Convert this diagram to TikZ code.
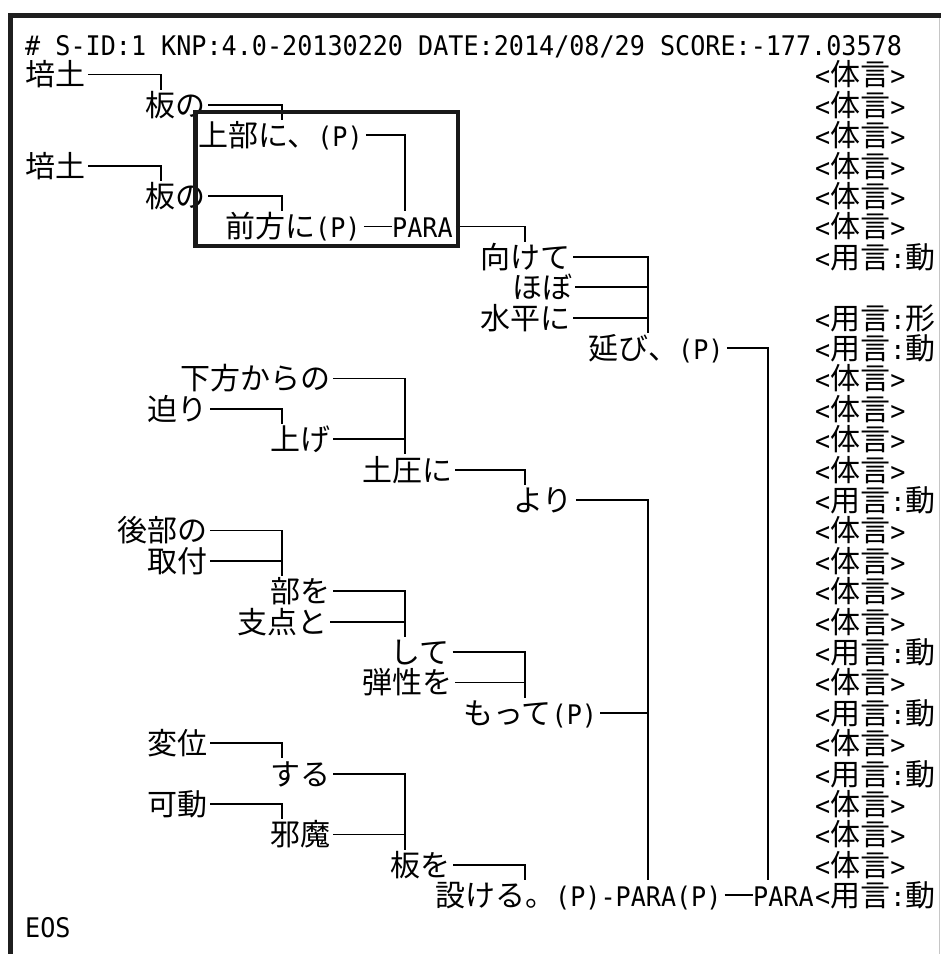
\documentclass[tikz,border=0pt]{standalone}
\usepackage{fontspec}
\newfontfamily\jpface{Noto Sans CJK JP}
\newfontfamily\monoface[FakeStretch=0.93]{DejaVu Sans Mono}
\newcommand\lat[1]{{\monoface\fontsize{27}{30}\selectfont #1}}
\newcommand\jpf{\jpface\fontsize{30}{30}\selectfont}
\newcommand\tagT{\lat{<}体言\lat{>}}
\newcommand\tagD{\lat{<}用言\lat{:}動}
\newcommand\tagK{\lat{<}用言\lat{:}形}
\begin{document}
\begin{tikzpicture}[x=1pt,y=-1pt,
  w/.style={anchor=west,inner sep=0pt,text height=26.4pt,text depth=3.6pt,font=\jpf},
  conn/.style={line width=1.8pt,black,shorten <=3pt},
  frame/.style={line width=5pt,black!88},
  hilite/.style={line width=4.5pt,black!90}]
\useasboundingbox (0,0) rectangle (941,954);
% window frame
\draw[frame] (10,954) -- (10,15) -- (943,15);
\draw[gray!45,line width=1pt] (939.5,18) -- (939.5,954);
% junction columns
\coordinate (ja) at (161,0);
\coordinate (jb) at (282,0);
\coordinate (jc) at (405,0);
\coordinate (jd) at (525,0);
\coordinate (je) at (648,0);
\coordinate (jf) at (768,0);
% header
\node[w] (hdr) at (25,44) {\lat{\# S-ID:1 KNP:4.0-20130220 DATE:2014/08/29 SCORE:-177.03578}};
% words
\node[w] (r1) at (25,74.4) {培土};
\node[w] (r2) at (145,104.8) {板の};
\node[w] (r3) at (198,135.2) {上部に、\lat{(P)}};
\node[w] (r4) at (25,165.6) {培土};
\node[w] (r5) at (145,196) {板の};
\node[w] (r6) at (225,226.4) {前方に\lat{(P)}};
\node[w] (p6) at (392,226.4) {\lat{PARA}};
\node[w] (r7) at (480,256.8) {向けて};
\node[w] (r8) at (512,287.2) {ほぼ};
\node[w] (r9) at (480,317.6) {水平に};
\node[w] (r10) at (588,348) {延び、\lat{(P)}};
\node[w] (r11) at (180,378.4) {下方からの};
\node[w] (r12) at (147,408.8) {迫り};
\node[w] (r13) at (270,439.2) {上げ};
\node[w] (r14) at (362,469.6) {土圧に};
\node[w] (r15) at (513,500) {より};
\node[w] (r16) at (117,530.4) {後部の};
\node[w] (r17) at (147,560.8) {取付};
\node[w] (r18) at (270,591.2) {部を};
\node[w] (r19) at (237,621.6) {支点と};
\node[w] (r20) at (390,652) {して};
\node[w] (r21) at (362,682.4) {弾性を};
\node[w] (r22) at (463,712.8) {もって\lat{(P)}};
\node[w] (r23) at (147,743.2) {変位};
\node[w] (r24) at (270,773.6) {する};
\node[w] (r25) at (147,804) {可動};
\node[w] (r26) at (270,834.4) {邪魔};
\node[w] (r27) at (390,864.8) {板を};
\node[w] (r28) at (435,895.2) {設ける。\lat{(P)-PARA(P)}};
\node[w] (p28) at (753,895.2) {\lat{PARA}};
\node[w] (eos) at (25,925.6) {\lat{EOS}};
% tags
\foreach \r/\tg in {1/\tagT,2/\tagT,3/\tagT,4/\tagT,5/\tagT,6/\tagT,7/\tagD,9/\tagK,10/\tagD,
  11/\tagT,12/\tagT,13/\tagT,14/\tagT,15/\tagD,16/\tagT,17/\tagT,18/\tagT,19/\tagT,20/\tagD,
  21/\tagT,22/\tagD,23/\tagT,24/\tagD,25/\tagT,26/\tagT,27/\tagT,28/\tagD}
  \node[w] (t\r) at (815,44+30.4*\r) {\tg};
% connectors
\draw[conn] (r1.east) -| (ja |- r2.north);
\draw[conn] (r2.east) -| (jb |- r3.north);
\draw[conn] (r3.east) -| (jc |- p6.north);
\draw[conn] (r4.east) -| (ja |- r5.north);
\draw[conn] (r5.east) -| (jb |- r6.north);
\draw[conn] (r6.east) -- (p6.west);
\draw[conn] (p6.east) -| (jd |- r7.north);
\draw[conn] (r7.east) -| (je |- r10.north);
\draw[conn] (r8.east) -| (je |- r10.north);
\draw[conn] (r9.east) -| (je |- r10.north);
\draw[conn] (r10.east) -| (jf |- p28.north);
\draw[conn] (r11.east) -| (jc |- r14.north);
\draw[conn] (r12.east) -| (jb |- r13.north);
\draw[conn] (r13.east) -| (jc |- r14.north);
\draw[conn] (r14.east) -| (jd |- r15.north);
\draw[conn] (r15.east) -| (je |- r28.north);
\draw[conn] (r16.east) -| (jb |- r18.north);
\draw[conn] (r17.east) -| (jb |- r18.north);
\draw[conn] (r18.east) -| (jc |- r20.north);
\draw[conn] (r19.east) -| (jc |- r20.north);
\draw[conn] (r20.east) -| (jd |- r22.north);
\draw[conn] (r21.east) -| (jd |- r22.north);
\draw[conn] (r22.east) -| (je |- r28.north);
\draw[conn] (r23.east) -| (jb |- r24.north);
\draw[conn] (r24.east) -| (jc |- r27.north);
\draw[conn] (r25.east) -| (jb |- r26.north);
\draw[conn] (r26.east) -| (jc |- r27.north);
\draw[conn] (r27.east) -| (jd |- r28.north);
\draw[conn] (r28.east) -- (p28.west);
% highlight box
\draw[hilite] (195.5,112) rectangle (458,246);
\end{tikzpicture}
\end{document}
